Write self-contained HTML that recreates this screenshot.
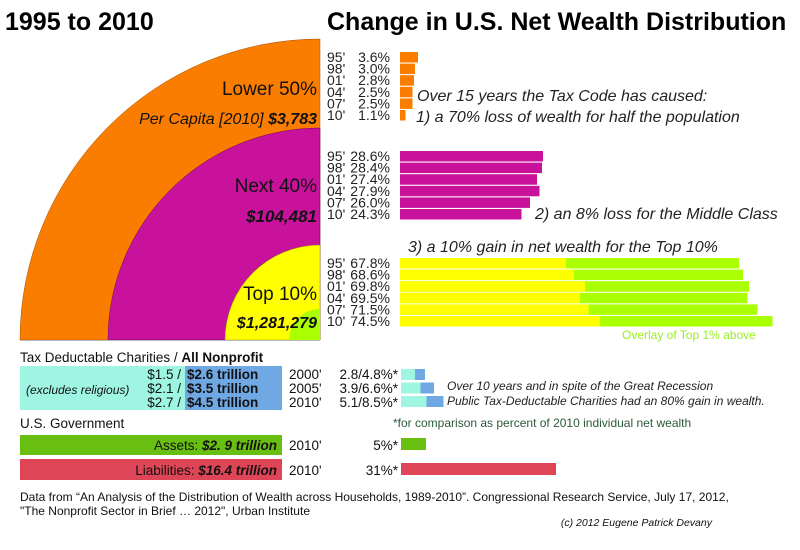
<!DOCTYPE html>
<html><head><meta charset="utf-8"><style>
body{margin:0;background:#fff}
svg{display:block;font-family:"Liberation Sans",sans-serif}
.t{font-size:14px;fill:#222}
</style></head><body>
<svg width="800" height="550" viewBox="0 0 800 550">
<text x="5" y="30" font-size="25" font-weight="bold">1995 to 2010</text>
<text x="327" y="30" font-size="25" font-weight="bold">Change in U.S. Net Wealth Distribution</text>
<g>
<path d="M20,340 A300,301 0 0 1 320,39 L320,340 Z" fill="#fb7d00" stroke="#a05000" stroke-width="0.5"/>
<path d="M108,340 A212,212 0 0 1 320,128 L320,340 Z" fill="#c8129b" stroke="#700060" stroke-width="0.5"/>
<path d="M225,340 A95,95 0 0 1 320,245 L320,340 Z" fill="#ffff00" stroke="#999900" stroke-width="0.5"/>
<path d="M289,340 A31,31 0 0 1 320,309 L320,340 Z" fill="#aaff00"/>
<line x1="20" y1="340.5" x2="320" y2="340.5" stroke="#bbb" stroke-width="1"/>
</g>
<g font-size="19" text-anchor="end" fill="#111">
<text x="317" y="95">Lower 50%</text>
<text x="317" y="124" font-size="16" font-style="italic">Per Capita [2010] <tspan font-weight="bold">$3,783</tspan></text>
<text x="317" y="192">Next 40%</text>
<text x="317" y="222" font-size="17" font-weight="bold" font-style="italic">$104,481</text>
<text x="317" y="300">Top 10%</text>
<text x="317" y="328" font-size="16" font-weight="bold" font-style="italic">$1,281,279</text>
</g>
<g id="bars"></g>
<g font-size="16" font-style="italic" fill="#222">
<text x="417" y="101">Over 15 years the Tax Code has caused:</text>
<text x="416" y="122">1) a 70% loss of wealth for half the population</text>
<text x="535" y="219">2) an 8% loss for the Middle Class</text>
<text x="408" y="252">3) a 10% gain in net wealth for the Top 10%</text>
</g>
<text x="622" y="339" font-size="12" fill="#99ee22">Overlay of Top 1% above</text>
<text x="20" y="362" font-size="13.5" fill="#111">Tax Deductable Charities / <tspan font-weight="bold">All Nonprofit</tspan></text>
<rect x="20" y="366" width="165" height="44" fill="#9ef5e2"/>
<rect x="185" y="366" width="97" height="44" fill="#6fa8e2"/>
<text x="26" y="394" font-size="12" font-style="italic" fill="#111">(excludes religious)</text>
<g font-size="13.5" fill="#111">
<text x="181" y="379" text-anchor="end">$1.5 /</text><text x="187" y="379" font-weight="bold">$2.6 trillion</text>
<text x="181" y="393" text-anchor="end">$2.1 /</text><text x="187" y="393" font-weight="bold">$3.5 trillion</text>
<text x="181" y="407" text-anchor="end">$2.7 /</text><text x="187" y="407" font-weight="bold">$4.5 trillion</text>
<text x="289" y="379">2000'</text><text x="289" y="393">2005'</text><text x="289" y="407">2010'</text>
<text x="398" y="379" text-anchor="end">2.8/4.8%*</text><text x="398" y="393" text-anchor="end">3.9/6.6%*</text><text x="398" y="407" text-anchor="end">5.1/8.5%*</text>
</g>
<g font-size="12" font-style="italic" fill="#222">
<text x="447" y="390">Over 10 years and in spite of the Great Recession</text>
<text x="447" y="405">Public Tax-Deductable Charities had an 80% gain in wealth.</text>
</g>
<text x="393" y="427" font-size="12" fill="#2a5a3a">*for comparison as percent of 2010 individual net wealth</text>
<text x="20" y="428" font-size="13.5" fill="#111">U.S. Government</text>
<rect x="20" y="435" width="262" height="20" fill="#69bf10"/>
<rect x="20" y="459" width="262" height="21" fill="#de4556"/>
<g font-size="13.5" fill="#111">
<text x="277" y="450" text-anchor="end">Assets: <tspan font-weight="bold" font-style="italic">$2. 9 trillion</tspan></text>
<text x="277" y="475" text-anchor="end">Liabilities: <tspan font-weight="bold" font-style="italic">$16.4 trillion</tspan></text>
<text x="289" y="450">2010'</text><text x="289" y="475">2010'</text>
<text x="398" y="450" text-anchor="end">5%*</text><text x="398" y="475" text-anchor="end">31%*</text>
</g>
<g font-size="12" fill="#111">
<text x="20" y="501">Data from “An Analysis of the Distribution of Wealth across Households, 1989-2010”. Congressional Research Service, July 17, 2012,</text>
<text x="20" y="515">"The Nonprofit Sector in Brief … 2012", Urban Institute</text>
<text x="712" y="526" font-size="10.5" font-style="italic" text-anchor="end">(c) 2012 Eugene Patrick Devany</text>
</g>
</svg>
<script>
const years = ["95'","98'","01'","04'","07'","10'"];
const lower50 = [3.6,3.0,2.8,2.5,2.5,1.1];
const next40 = [28.6,28.4,27.4,27.9,26.0,24.3];
const top10 = [67.8,68.6,69.8,69.5,71.5,74.5];
const top1 = [33.2,34.8,37.0,36.0,37.7,40.0];
const charityYears = [2.8,3.9,5.1];
const nonprofitYears = [4.8,6.6,8.5];
const govAssets = [5];
const govLiabilities = [31];
const NS="http://www.w3.org/2000/svg";
const g=document.getElementById('bars');
const x0=400, pxPer=5;
function xs(v){return v*pxPer;}
function mk(tag,attrs){const e=document.createElementNS(NS,tag);for(const k in attrs)e.setAttribute(k,attrs[k]);g.appendChild(e);return e;}
function group(vals,top,color,name,overlay){
  vals.forEach((v,i)=>{
    const y=top+i*11.6;
    const yl=mk('text',{x:327,y:y+10,class:'t'});yl.textContent=years[i];
    
    
    const pl=mk('text',{x:390,y:y+10,class:'t','text-anchor':'end'});pl.textContent=v.toFixed(1)+'%';
    
    
    const r=mk('rect',{x:x0,y:y,width:xs(v),height:10.5,fill:overlay?'#aaff00':color});
    
    
    if(overlay){
      const o=mk('rect',{x:x0,y:y,width:xs(overlay[i]),height:10.5,fill:color});
      
      
    }
  });
}
group(lower50,52,'#fb7d00','lower-50');
group(next40,151,'#c8129b','next-40');
group(top10,258,'#ffff00','top-10',top1);
charityYears.forEach((v,i)=>{
  const y=369+i*13.5;
  const b=mk('rect',{x:x0+1,y:y,width:xs(nonprofitYears[i]),height:11,fill:'#6fa8e2'});
  
  
  const a=mk('rect',{x:x0+1,y:y,width:xs(v),height:11,fill:'#9ef5e2'});
  
  
});
const ab=mk('rect',{x:x0+1,y:438,width:xs(govAssets[0]),height:12,fill:'#69bf10'});


const lb=mk('rect',{x:x0+1,y:463,width:xs(govLiabilities[0]),height:12,fill:'#de4556'});


</script>
</body></html>
